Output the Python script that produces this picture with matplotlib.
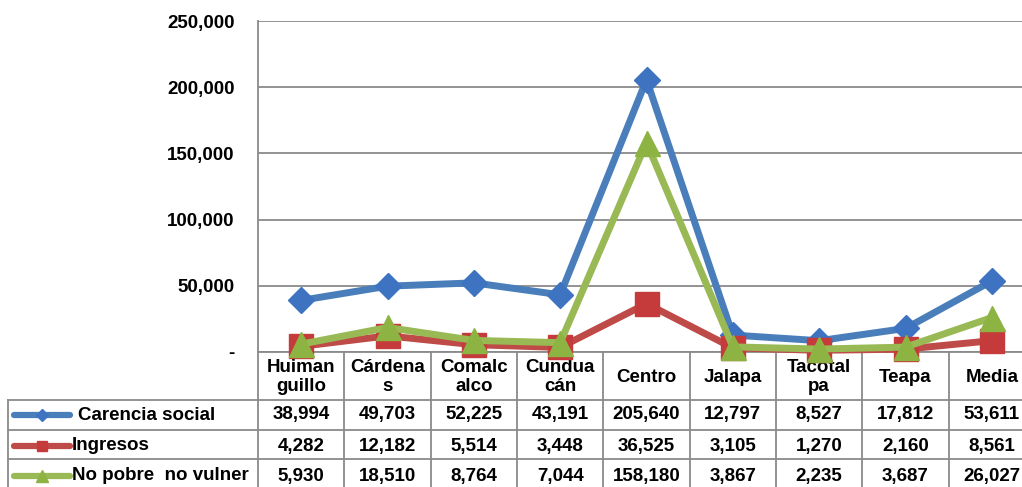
import matplotlib
matplotlib.use("Agg")
import matplotlib.pyplot as plt
import matplotlib.transforms as mtransforms
from matplotlib.lines import Line2D

# Datos
categories = ["Huiman\nguillo", "Cárdena\ns", "Comalc\nalco", "Cundua\ncán", "Centro",
              "Jalapa", "Tacotal\npa", "Teapa", "Media"]
carencia_social = [38994, 49703, 52225, 43191, 205640, 12797, 8527, 17812, 53611]
ingresos = [4282, 12182, 5514, 3448, 36525, 3105, 1270, 2160, 8561]
no_pobre = [5930, 18510, 8764, 7044, 158180, 3867, 2235, 3687, 26027]
series_names = ["Carencia social", "Ingresos", "No pobre  no vulner"]
y_ticks = [0, 50000, 100000, 150000, 200000, 250000]
y_tick_labels = ["-", "50,000", "100,000", "150,000", "200,000", "250,000"]

plt.rcParams['font.family'] = ['Liberation Sans', 'DejaVu Sans']

W, H = 1022, 487
GRID = "#8a8a8a"
FS = 13.5

fig = plt.figure(figsize=(W / 100, H / 100), dpi=100)
ax = fig.add_axes([258 / W, 1 - 352 / H, 777 / W, (352 - 21) / H])
ax.set_xlim(-0.5, len(categories) - 0.5)
ax.set_ylim(0, 250000)

for s in ["top", "right", "bottom"]:
    ax.spines[s].set_visible(False)
ax.spines["left"].set_color(GRID)
ax.spines["left"].set_linewidth(1.3)
ax.set_xticks([])
ax.set_yticks(y_ticks)
ax.set_yticklabels(y_tick_labels, fontsize=FS, fontweight="bold")
ax.tick_params(axis="y", length=0, pad=17)
ax.yaxis.grid(True, color=GRID, linewidth=1.3)
ax.set_axisbelow(True)

styles = [
    dict(color="#4A7EBB", marker="D", ms=13, mfc="#3D73C1", mec="#3D73C1"),
    dict(color="#BE4B48", marker="s", ms=17, mfc="#C53A3A", mec="#C53A3A"),
    dict(color="#98B954", marker="^", ms=18, mfc="#8DB443", mec="#8DB443"),
]
series = [carencia_social, ingresos, no_pobre]
x = list(range(len(categories)))
for vals, st, z in zip(series, styles, [5, 6, 7]):
    ax.plot(x, vals, linewidth=5, clip_on=False, zorder=z, **st)

# Tabla de datos
tr = mtransforms.blended_transform_factory(ax.transData, fig.transFigure)
fy = lambda py: 1 - py / H

for i in range(len(categories) + 1):
    ax.add_line(Line2D([i - 0.5, i - 0.5], [fy(352), fy(490)], transform=tr,
                       color=GRID, lw=1.3, clip_on=False, zorder=1))
ax.add_line(Line2D([-0.5, len(categories) - 0.5], [fy(352), fy(352)], transform=tr,
                   color=GRID, lw=1.3, clip_on=False, zorder=1))
for py in [400, 430, 459]:
    fig.add_artist(Line2D([8 / W, 1.0], [fy(py), fy(py)], color=GRID, lw=1.3, zorder=1))
fig.add_artist(Line2D([8 / W, 8 / W], [fy(400), fy(490)], color=GRID, lw=1.3, zorder=1))

for i, cat in enumerate(categories):
    ax.text(i, fy(377), cat, transform=tr, ha="center", va="center", fontsize=FS,
            fontweight="bold", linespacing=1.1, zorder=2, clip_on=False)

row_y = [415, 446, 476]
for vals, py in zip(series, row_y):
    for i, v in enumerate(vals):
        ax.text(i, fy(py), f"{v:,}", transform=tr, ha="center", va="center",
                fontsize=FS, fontweight="bold", zorder=2, clip_on=False)

# claves de leyenda dentro de la tabla
label_x = [78, 72, 72]
key_ms = [6.5, 7, 8]
for name, st, py, lx, kms in zip(series_names, styles, row_y, label_x, key_ms):
    fig.add_artist(Line2D([14 / W, 70 / W], [fy(py), fy(py)], color=st["color"], lw=4.5,
                          solid_capstyle="round"))
    fig.add_artist(Line2D([42 / W], [fy(py)], marker=st["marker"], ms=kms,
                          mfc=st["mfc"], mec=st["mec"], ls="none"))
    fig.text(lx / W, fy(py), name, ha="left", va="center", fontsize=FS, fontweight="bold")

fig.savefig("out.png", dpi=100)
